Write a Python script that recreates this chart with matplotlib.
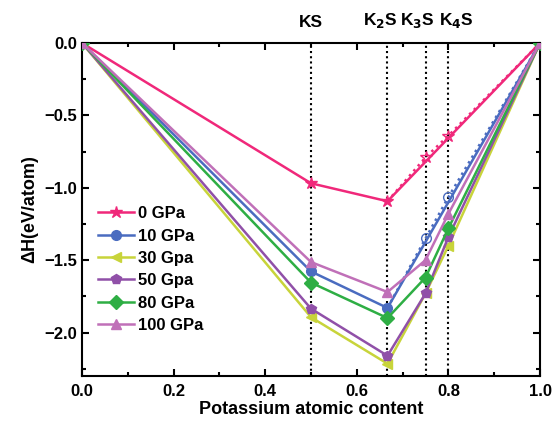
import matplotlib
matplotlib.use("Agg")
import matplotlib.pyplot as plt
from matplotlib.ticker import MultipleLocator

plt.rcParams['font.family'] = ['Liberation Sans', 'DejaVu Sans']
plt.rcParams['font.weight'] = 'bold'

x_full = [0.0, 0.5, 0.667, 0.75, 0.8, 1.0]
labels = ["0 GPa", "10 GPa", "30 Gpa", "50 Gpa", "80 GPa", "100 GPa"]
colors = ["#F0287A", "#4A6CC0", "#C8D43A", "#9050A8", "#2EAE44", "#C070B8"]
markers = ["*", "o", "<", "p", "D", "^"]

# stable-hull points (0, KS, K2S, 1) for 0 and 10 GPa
x_hull = [0.0, 0.5, 0.667, 1.0]
h0_hull = [0.0, -0.969, -1.093, 0.0]
h10_hull = [0.0, -1.578, -1.83, 0.0]
# metastable points (dotted)
x_meta = [0.667, 0.75, 0.8, 1.0]
h0_meta = [-1.093, -0.79, -0.64, 0.0]
h10_meta = [-1.83, -1.35, -1.064, 0.0]

h30 = [0.0, -1.894, -2.215, -1.73, -1.40, 0.0]
h50 = [0.0, -1.835, -2.16, -1.73, -1.34, 0.0]
h80 = [0.0, -1.655, -1.90, -1.62, -1.28, 0.0]
h100 = [0.0, -1.513, -1.72, -1.50, -1.18, 0.0]

phase_x = [0.5, 0.667, 0.75, 0.8]
phase_labels = ["KS", "K$_\\mathbf{2}$S", "K$_\\mathbf{3}$S", "K$_\\mathbf{4}$S"]
phase_shift = [0, -7, -8, 8]

fig = plt.figure(figsize=(5.52, 4.21), dpi=100)
ax = fig.add_axes([82/552, 1-376/421, 458/552, 333/421])

for px in phase_x:
    ax.axvline(px, color='black', ls=(0, (1, 1.5)), lw=1.5, zorder=1)

ms = 7
# 0 GPa
ax.plot(x_hull, h0_hull, color=colors[0], marker=markers[0], ms=ms+2, lw=1.8, label=labels[0], zorder=3)
ax.plot(x_meta, h0_meta, color=colors[0], ls=':', lw=1.8, marker=markers[0], ms=ms+2,
        mfc='none', markevery=[1, 2], zorder=3)
# 10 GPa
ax.plot(x_hull, h10_hull, color=colors[1], marker=markers[1], ms=ms, lw=1.8, label=labels[1], zorder=3)
ax.plot(x_meta, h10_meta, color=colors[1], ls=':', lw=1.8, marker=markers[1], ms=ms,
        mfc='none', markevery=[1, 2], zorder=3)

for h, lab, c, m in zip([h30, h50, h80, h100], labels[2:], colors[2:], markers[2:]):
    ax.plot(x_full, h, color=c, marker=m, ms=ms, lw=1.8, label=lab, zorder=3)

ax.set_xlim(0, 1.0)
ax.set_ylim(-2.3, 0.0)
ax.xaxis.set_major_locator(MultipleLocator(0.2))
ax.xaxis.set_minor_locator(MultipleLocator(0.1))
ax.yaxis.set_major_locator(MultipleLocator(0.5))
ax.yaxis.set_minor_locator(MultipleLocator(0.25))
ax.tick_params(which='both', direction='in', top=True, right=True, width=1.5, labelsize=12)
ax.tick_params(which='major', length=5)
ax.tick_params(which='minor', length=3)
ax.tick_params(axis='x', pad=6)
for lab in ax.get_xticklabels() + ax.get_yticklabels():
    lab.set_fontweight('bold')
for s in ax.spines.values():
    s.set_linewidth(1.5)

ax.set_xlabel("Potassium atomic content", fontsize=13, fontweight='bold', labelpad=1)
ax.set_ylabel("ΔH(eV/atom)", fontsize=13, fontweight='bold', labelpad=4)

for px, pl, sh in zip(phase_x, phase_labels, phase_shift):
    ax.annotate(pl, xy=(px, 1.0), xycoords=ax.get_xaxis_transform(),
                xytext=(sh, 13), textcoords='offset pixels', ha='center', va='bottom',
                fontsize=12.5, fontweight='bold')

leg = ax.legend(loc='upper left', bbox_to_anchor=(0.02, 0.53), frameon=False,
                handlelength=2.2, handletextpad=0.2, labelspacing=0.44,
                borderaxespad=0, prop={'weight': 'bold', 'size': 12})

fig.savefig("out.png", dpi=100)
